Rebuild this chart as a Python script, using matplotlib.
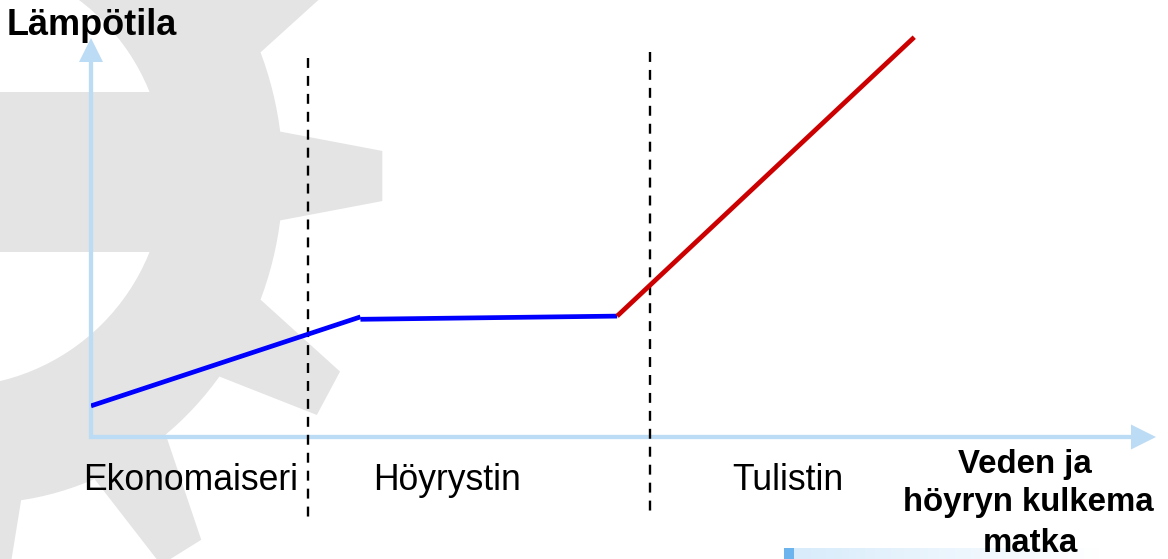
import numpy as np
import matplotlib.pyplot as plt
from matplotlib.patches import Polygon, Circle, Rectangle
from matplotlib.colors import LinearSegmentedColormap

plt.rcParams['font.family'] = ['Liberation Sans', 'DejaVu Sans']

# matka (0-100) ja lämpötila (0-100), luettu kuvasta
eko_x = [0, 25.3]
eko_y = [7.8, 30.1]
hoyry_x = [25.3, 49.4]
hoyry_y = [29.5, 30.3]
tuli_x = [49.4, 77.3]
tuli_y = [30.3, 100.2]
rajat = [20.4, 52.5]
rajat_yla = [95, 96.5]
osat = ['Ekonomaiseri', 'Höyrystin', 'Tulistin']
osat_x = [9.4, 33.4, 65.4]
akselin_nimi = ['Veden ja', 'höyryn kulkema', 'matka']

W, H = 1168, 559
fig = plt.figure(figsize=(W / 100, H / 100), dpi=100)

# tausta pikselikoordinaateissa
bg = fig.add_axes([0, 0, 1, 1])
bg.axis('off')

# hammasratas taustalla
grey = '#e4e4e4'
cx, cy = -20, 176
r_out, r_in, ysc = 403, 303, 1.08
tb, tt = np.radians(7.8), np.radians(3.3)
pts = []
for k in range(12):
    a = np.radians(k * 30)
    for ang in np.linspace(a - np.radians(22.2), a - tb, 8):
        pts.append((cx + r_in * np.cos(ang), cy + ysc * r_in * np.sin(ang)))
    for r, ang in [(r_out, a - tt), (r_out, a + tt), (r_in, a + tb)]:
        pts.append((cx + r * np.cos(ang), cy + ysc * r * np.sin(ang)))
bg.add_patch(Polygon(pts, closed=True, fc=grey, ec='none', zorder=0))
bg.add_patch(Circle((-50, 172), 215, fc='white', ec='none', zorder=0.1))
bg.add_patch(Rectangle((-300, 92), 470, 160, fc=grey, ec='none', zorder=0.2))

# vaalea palkki alhaalla
grad = np.linspace(0, 1, 256).reshape(1, -1)
cm = LinearSegmentedColormap.from_list('g', ['#d8ecfb', '#ffffff'])
bg.imshow(grad, cmap=cm, extent=(794, 1100, 559, 548), aspect='auto', zorder=0.3)
bg.add_patch(Rectangle((784, 548), 10, 11, fc='#6cb4ee', ec='none', zorder=0.4))
bg.set_xlim(0, W)
bg.set_ylim(H, 0)

# varsinainen kuvaaja
ax = fig.add_axes([91 / W, (H - 437) / H, 1065 / W, 399 / H])
ax.set_xlim(0, 100)
ax.set_ylim(0, 100)
ax.axis('off')
ax.patch.set_alpha(0)

axc = '#bcdcf5'
ah_x, ah_y = 25 / 1065, 24 / 399
ax.plot([0, 0, 1 - ah_x], [1 - ah_y, 0, 0], color=axc, lw=3.1,
        solid_joinstyle='miter', transform=ax.transAxes, clip_on=False, zorder=1)
ax.add_patch(Polygon([(0, 1), (-12 / 1065, 1 - ah_y), (12 / 1065, 1 - ah_y)],
                     transform=ax.transAxes, fc=axc, ec='none', clip_on=False))
ax.add_patch(Polygon([(1, 0), (1 - ah_x, 12.5 / 399), (1 - ah_x, -12.5 / 399)],
                     transform=ax.transAxes, fc=axc, ec='none', clip_on=False))

for xr, top in zip(rajat, rajat_yla):
    ax.plot([xr, xr], [top, -20.3], color='black', lw=1.7, dashes=(4.2, 3.4),
            clip_on=False, zorder=2)

ax.plot(eko_x, eko_y, color='#0000ff', lw=3.4, solid_capstyle='butt', zorder=3)
ax.plot(hoyry_x, hoyry_y, color='#0000ff', lw=3.4, solid_capstyle='butt', zorder=3)
ax.plot(tuli_x, tuli_y, color='#cc0000', lw=3.4, solid_capstyle='butt', zorder=3,
        clip_on=False)

# tekstit
bg.text(7, 35, 'Lämpötila', fontsize=26, fontweight='bold', ha='left',
        va='baseline', zorder=5)
for s, xs in zip(osat, osat_x):
    ax.text(xs, -13.2, s, fontsize=25.6, ha='center', va='baseline', zorder=5)
for s, xs, ys in zip(akselin_nimi, [1025, 1028, 1030], [473, 511, 552]):
    bg.text(xs, ys, s, fontsize=23.8, fontweight='bold', ha='center',
            va='baseline', zorder=5)

fig.savefig('out.png', dpi=100)
